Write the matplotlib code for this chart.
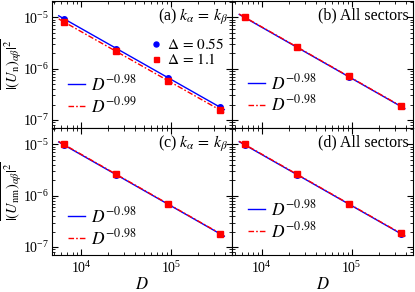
import numpy as np
import matplotlib
matplotlib.use("Agg")
import matplotlib.pyplot as plt
from matplotlib.ticker import LogLocator, NullFormatter

plt.rcParams['font.family'] = ['Liberation Serif', 'DejaVu Serif']
plt.rcParams['mathtext.fontset'] = 'stix'

# Hilbert space dimensions
D = [6435, 24310, 92378, 352716]

# (a) k_alpha = k_beta, nearest-neighbour
a_d055 = [9.5e-6, 2.46e-6, 6.6e-7, 1.78e-7]
a_d11 = [8.1e-6, 2.2e-6, 5.8e-7, 1.55e-7]
# (b) all sectors
b_d055 = [1.0e-5, 2.62e-6, 7.0e-7, 1.84e-7]
b_d11 = [1.02e-5, 2.65e-6, 7.1e-7, 1.87e-7]
# (c) k_alpha = k_beta, nm
c_d055 = [9.8e-6, 2.55e-6, 6.8e-7, 1.80e-7]
c_d11 = [1.0e-5, 2.6e-6, 6.95e-7, 1.82e-7]
# (d) all sectors, nm
d_d055 = [9.9e-6, 2.58e-6, 6.9e-7, 1.82e-7]
d_d11 = [1.01e-5, 2.62e-6, 7.0e-7, 1.85e-7]

fit_labels = {
    'a': ['-0.98', '-0.99'],
    'b': ['-0.98', '-0.98'],
    'c': ['-0.98', '-0.98'],
    'd': ['-0.98', '-0.98'],
}
titles = {
    'a': r'(a) $k_\alpha\,=\,k_\beta$',
    'b': '(b) All sectors',
    'c': r'(c) $k_\alpha\,=\,k_\beta$',
    'd': '(d) All sectors',
}
fit_range = [5.6e3, 3.9e5]
# where the fit legend sits in each panel (axes fraction, bottom of box)
leg_y = {'a': -0.03, 'b': -0.02, 'c': -0.07, 'd': -0.015}

fig, axes = plt.subplots(2, 2, figsize=(4.15, 2.92), dpi=100, sharex=True, sharey=True)
plt.subplots_adjust(left=0.125, right=0.995, top=0.997, bottom=0.127, wspace=0, hspace=0)

panels = [('a', axes[0, 0], a_d055, a_d11), ('b', axes[0, 1], b_d055, b_d11),
          ('c', axes[1, 0], c_d055, c_d11), ('d', axes[1, 1], d_d055, d_d11)]

xf = np.array(fit_range)
for key, ax, y1, y2 in panels:
    # power-law fits
    lines = []
    for y, col, ls in [(y1, 'blue', '-'), (y2, 'red', (0, (4, 1.5, 1.2, 1.5)))]:
        p = np.polyfit(np.log10(D), np.log10(y), 1)
        ln, = ax.plot(xf, 10 ** np.polyval(p, np.log10(xf)), color=col, ls=ls, lw=1.0)
        lines.append(ln)
    m1, = ax.plot(D, y1, 'o', color='blue', ms=4, ls='none')
    m2, = ax.plot(D, y2, 's', color='red', ms=4, ls='none')

    leg = ax.legend(lines, [r'$D^{%s}$' % s for s in fit_labels[key]],
                    loc='lower left', bbox_to_anchor=(0.0, leg_y[key]), frameon=False,
                    fontsize=12.5, handlelength=1.0, labelspacing=0.1, handletextpad=0.35)
    if key == 'a':
        ax.add_artist(leg)
        ax.legend([m1, m2], [r'$\Delta\,=\,0.55$', r'$\Delta\,=\,1.1$'], loc='upper right',
                  bbox_to_anchor=(1.03, 0.82), frameon=False, fontsize=11,
                  handlelength=0.6, handletextpad=0.4, labelspacing=0.0, markerscale=0.9)
    ax.text(0.975, 0.95, titles[key], transform=ax.transAxes, ha='right', va='top', fontsize=11.5)

    ax.set_xscale('log')
    ax.set_yscale('log')
    ax.tick_params(which='both', direction='in', top=True, right=True, labelsize=10)
    ax.tick_params(axis='y', pad=2)
    ax.tick_params(which='major', length=4)
    ax.tick_params(which='minor', length=2)
    ax.xaxis.set_minor_locator(LogLocator(subs=np.arange(2, 10), numticks=20))
    ax.yaxis.set_minor_locator(LogLocator(subs=np.arange(2, 10), numticks=20))
    ax.xaxis.set_minor_formatter(NullFormatter())

axes[0, 0].set_xlim(4.7e3, 4.8e5)
axes[0, 0].set_ylim(7e-8, 2.1e-5)

axes[0, 0].set_ylabel(r'$\overline{|(U_\mathrm{n})_{\alpha\beta}|^2}$', fontsize=10.5)
axes[1, 0].set_ylabel(r'$\overline{|(U_\mathrm{nm})_{\alpha\beta}|^2}$', fontsize=10.5)
axes[0, 0].yaxis.set_label_coords(-0.155, 0.5)
axes[1, 0].yaxis.set_label_coords(-0.155, 0.5)
axes[1, 0].set_xlabel(r'$D$', fontsize=12, labelpad=1)
axes[1, 1].set_xlabel(r'$D$', fontsize=12, labelpad=1)

plt.savefig('out.png', dpi=100)
